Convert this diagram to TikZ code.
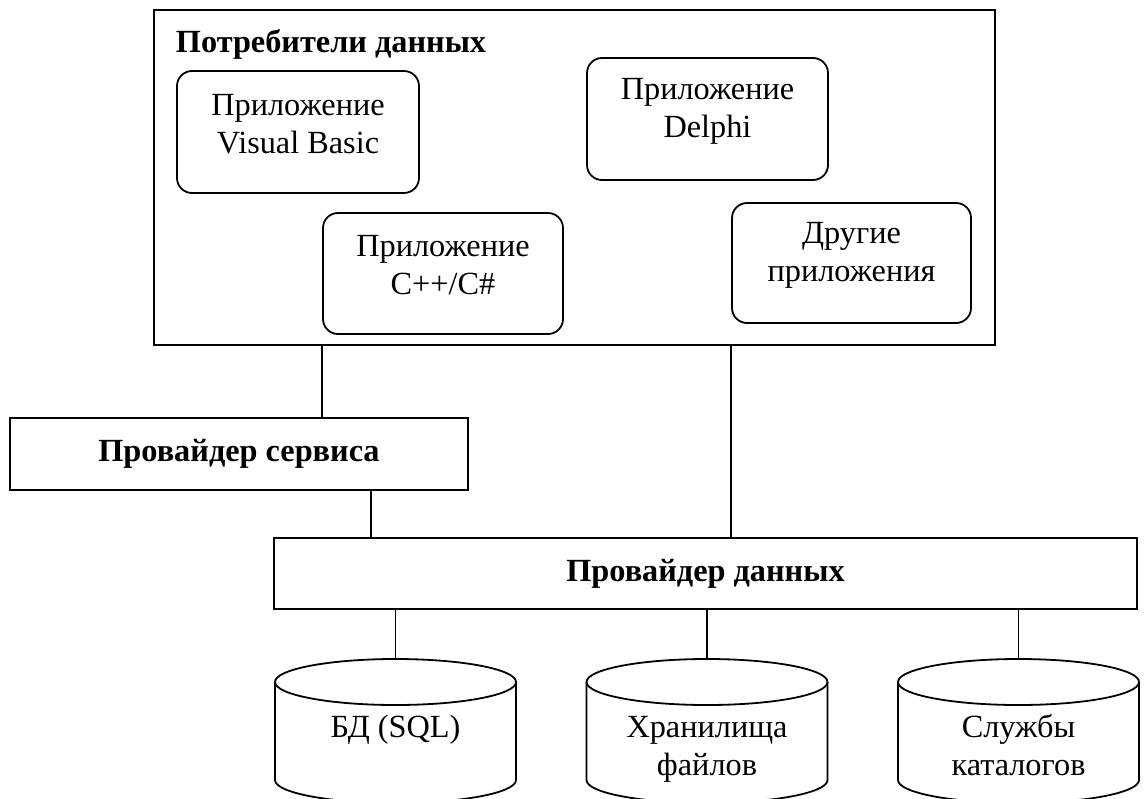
\documentclass[tikz,border=0pt]{standalone}
\usepackage{fontspec}
\setmainfont{Liberation Serif}
\begin{document}
\begin{tikzpicture}[x=1pt,y=-1pt,line width=1.8pt,
  box/.style={draw, rectangle, inner sep=0pt},
  appbox/.style={draw, rectangle, rounded corners=15pt, inner sep=0pt},
  lbl/.style={font=\fontsize{32.3}{38}\selectfont, align=center, inner sep=0pt},
  blbl/.style={font=\fontsize{32.3}{38}\selectfont\bfseries, align=center, inner sep=0pt},
  conn/.style={draw, line width=1.8pt},
  cyl/.style={draw, line width=1.8pt}]
\useasboundingbox (0,0) rectangle (1147,798);
\clip (0,0) rectangle (1147,798);

% consumers
\node[box, minimum width=841pt, minimum height=335pt] (cons) at (574.5,177.5) {};
\node[blbl, anchor=base west] (constitle) at (175,52) {Потребители данных};

\node[appbox, minimum width=242pt, minimum height=122pt] (vb) at (298,132) {};
\node[lbl] (vbt) at ([yshift=8pt]vb.center) {Приложение\\Visual Basic};

\node[appbox, minimum width=241pt, minimum height=122pt] (dl) at (707.5,119) {};
\node[lbl] (dlt) at ([yshift=8pt]dl.center) {Приложение\\Delphi};

\node[appbox, minimum width=240pt, minimum height=121pt] (cpp) at (443,273.5) {};
\node[lbl] (cppt) at ([yshift=8pt]cpp.center) {Приложение\\C++/C\#};

\node[appbox, minimum width=239pt, minimum height=120pt] (oth) at (851.5,263) {};
\node[lbl] (otht) at ([yshift=8pt]oth.center) {Другие\\приложения};

% providers
\node[box, blbl, draw, minimum width=458pt, minimum height=72pt] (ps) at (239,454) {Провайдер сервиса};
\node[box, blbl, draw, minimum width=863pt, minimum height=71pt] (pd) at (705.5,573.5) {Провайдер данных};

% connectors
\draw[conn] (cons.south -| cpp.west) -- (ps.north -| cpp.west);
\draw[conn] (cons.south -| oth.west) -- (pd.north -| oth.west);
\coordinate (k) at ([xshift=132pt]ps.south);
\draw[conn] (k) -- (k |- pd.north);

% cylinders
\coordinate (c1) at (395.5,659);
\coordinate (c2) at (707,659);
\coordinate (c3) at (1018.5,659);
\draw[conn] (pd.south -| c1) -- (c1);
\draw[conn] (pd.south -| c2) -- (c2);
\draw[conn] (pd.south -| c3) -- (c3);

\draw[cyl] (275,682) -- (275,780) arc[start angle=180, end angle=360, x radius=120.5pt, y radius=23pt] -- (516,682);
\draw[cyl] (395.5,682) ellipse [x radius=120.5pt, y radius=23pt];
\node[lbl] (db1) at (395.5,730) {БД (SQL)};

\draw[cyl] (586.5,682) -- (586.5,780) arc[start angle=180, end angle=360, x radius=120.5pt, y radius=23pt] -- (827.5,682);
\draw[cyl] (707,682) ellipse [x radius=120.5pt, y radius=23pt];
\node[lbl] (db2) at (707,749) {Хранилища\\файлов};

\draw[cyl] (898,682) -- (898,780) arc[start angle=180, end angle=360, x radius=120.5pt, y radius=23pt] -- (1139,682);
\draw[cyl] (1018.5,682) ellipse [x radius=120.5pt, y radius=23pt];
\node[lbl] (db3) at (1018.5,745.5) {Службы\\каталогов};
\end{tikzpicture}
\end{document}
